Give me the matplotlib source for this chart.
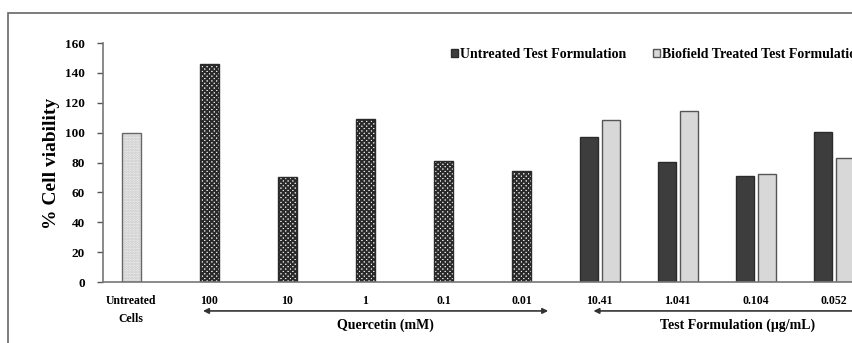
import numpy as np
import matplotlib.pyplot as plt
from matplotlib.patches import Patch, Rectangle

plt.rcParams['font.family'] = ['Liberation Serif', 'DejaVu Serif']
plt.rcParams['font.weight'] = 'bold'
plt.rcParams['hatch.linewidth'] = 1.4

# data
categories = ['Untreated\nCells', '100', '10', '1', '0.1', '0.01',
              '10.41', '1.041', '0.104', '0.052']
untreated_cells = [100]
quercetin = [146, 70.5, 109, 81, 74.5]
untreated_test = [97, 80.5, 71, 100.5]
biofield_test = [108.5, 114.5, 72, 83]

fig = plt.figure(figsize=(8.53, 3.43), dpi=100)
ax = fig.add_axes([0.1208, 0.1778, 0.9027, 0.6968])

x = np.arange(len(categories))
w = 0.245

# light dotted bar: hatch drawn in a pale grey, outline drawn on top
ax.bar(x[0], untreated_cells, w, color='#f0f0f0', edgecolor='#c4c4c4',
       hatch='......', linewidth=0, zorder=2)
ax.bar(x[0], untreated_cells, w, fill=False, edgecolor='#666666',
       linewidth=1.0, zorder=3)
ax.bar(x[1:6], quercetin, w, color='#f4f4f4', edgecolor='#2a2a2a',
       hatch='xxxxxxx', linewidth=1.0, zorder=2)

bw = 0.23
ax.bar(x[6:] - 0.14, untreated_test, bw, color='#3d3d3d',
       edgecolor='#2a2a2a', linewidth=1.0, zorder=2)
ax.bar(x[6:] + 0.14, biofield_test, bw, color='#d8d8d8',
       edgecolor='#555555', linewidth=1.0, zorder=2)

ax.set_xlim(-0.36, 9.5)
ax.set_ylim(0, 160)
ax.set_yticks(np.arange(0, 161, 20))
ax.set_xticks(x)
ax.set_xticklabels(categories, fontsize=8.5, linespacing=1.7)
ax.tick_params(axis='x', length=0, pad=9)
ax.tick_params(axis='y', length=4, width=1, color='#555555', pad=9,
               labelsize=9.5)
for s in ['top', 'right']:
    ax.spines[s].set_visible(False)
for s in ['left', 'bottom']:
    ax.spines[s].set_color('#777777')
    ax.spines[s].set_linewidth(1.2)

ax.set_ylabel('% Cell viability', fontsize=14, fontweight='bold')
ax.yaxis.set_label_coords(-0.056, 0.496)

# group arrows under the axis
ax.annotate('', xy=(0.92, -0.121), xytext=(5.34, -0.121),
            xycoords=('data', 'axes fraction'),
            textcoords=('data', 'axes fraction'),
            arrowprops=dict(arrowstyle='<|-|>', color='#333333', lw=1.2,
                            mutation_scale=8, shrinkA=0, shrinkB=0),
            annotation_clip=False)
ax.annotate('', xy=(5.92, -0.121), xytext=(10.5, -0.121),
            xycoords=('data', 'axes fraction'),
            textcoords=('data', 'axes fraction'),
            arrowprops=dict(arrowstyle='<|-|>', color='#333333', lw=1.2,
                            mutation_scale=8, shrinkA=0, shrinkB=0),
            annotation_clip=False)
ax.text(3.25, -0.18, 'Quercetin (mM)', transform=ax.get_xaxis_transform(),
        ha='center', va='center', fontsize=10, fontweight='bold',
        clip_on=False)
ax.text(7.76, -0.18, 'Test Formulation (\u03bcg/mL)',
        transform=ax.get_xaxis_transform(), ha='center', va='center',
        fontsize=10, fontweight='bold', clip_on=False)

handles = [Patch(facecolor='#3d3d3d', edgecolor='#2a2a2a'),
           Patch(facecolor='#d8d8d8', edgecolor='#555555')]
fig.legend(handles, ['Untreated Test Formulation',
                     'Biofield Treated Test Formulation'],
           ncol=2, loc='center left', bbox_to_anchor=(0.514, 0.84),
           frameon=False, handlelength=0.5, handleheight=0.5,
           handletextpad=0.15, columnspacing=1.9,
           prop={'weight': 'bold', 'size': 10})

# outer frame of the figure panel
fig.add_artist(Rectangle((8 / 853, -0.1), 1.2, 1.1 - 13 / 343,
                         transform=fig.transFigure, fill=False,
                         edgecolor='#666666', linewidth=1.2))

fig.savefig('out.png', dpi=100)
